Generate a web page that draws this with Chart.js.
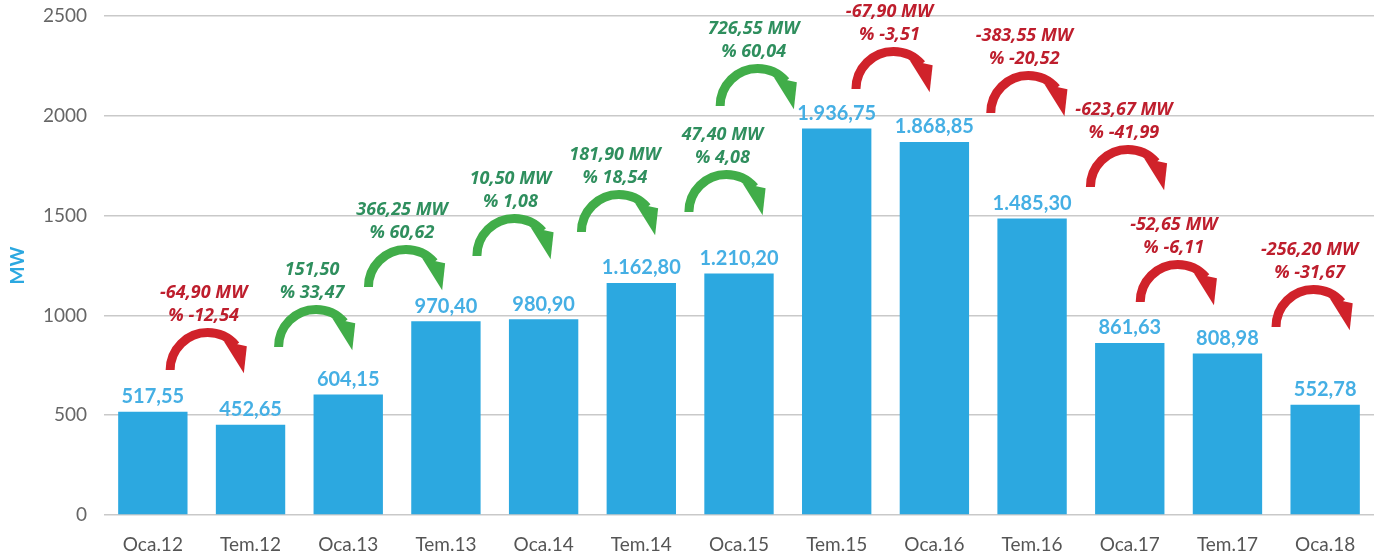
<!DOCTYPE html>
<html>
<head>
<meta charset="utf-8">
<script src="https://cdn.jsdelivr.net/npm/chart.js@4.4.0/dist/chart.umd.min.js"></script>
<style>
  html, body { margin: 0; padding: 0; background: #fff; }
  #wrap { width: 1392px; height: 557px; }
</style>
</head>
<body>
<div id="wrap"><canvas id="mwChart"></canvas></div>
<script>
const periods = ["Oca.12", "Tem.12", "Oca.13", "Tem.13", "Oca.14", "Tem.14", "Oca.15",
                 "Tem.15", "Oca.16", "Tem.16", "Oca.17", "Tem.17", "Oca.18"];
const capacity = [517.55, 452.65, 604.15, 970.40, 980.90, 1162.80, 1210.20,
                  1936.75, 1868.85, 1485.30, 861.63, 808.98, 552.78];

// change between consecutive periods
const changeMW = ["-64,90 MW", "151,50", "366,25 MW", "10,50 MW", "181,90 MW", "47,40 MW",
                  "726,55 MW", "-67,90 MW", "-383,55 MW", "-623,67 MW", "-52,65 MW", "-256,20 MW"];
const changePct = ["% -12,54", "% 33,47", "% 60,62", "% 1,08", "% 18,54", "% 4,08",
                   "% 60,04", "% -3,51", "% -20,52", "% -41,99", "% -6,11", "% -31,67"];
const rising = [false, true, true, true, true, true, true, false, false, false, false, false];
// where each arrow sits: category position and MW level
const arrowAt = [0.52, 1.63, 2.55, 3.66, 4.73, 5.83, 6.15, 7.54, 8.92, 9.94, 10.45, 11.84];
const arrowLevel = [726, 842, 1142, 1298, 1418, 1518, 2049, 2134, 2014, 1643, 1067, 942];

const yTicks = [0, 500, 1000, 1500, 2000, 2500];

function trFormat(v) {
    let parts = v.toFixed(2).split(".");
    let intPart = parts[0].replace(/\B(?=(\d{3})+(?!\d))/g, ".");
    return intPart + "," + parts[1];
}

const annotate = {
    id: "annotate",
    afterDatasetsDraw(chart) {
        const ctx = chart.ctx;
        const xs = chart.scales.x, ys = chart.scales.y;
        const bars = chart.getDatasetMeta(0).data;

        // value labels
        ctx.save();
        ctx.font = "bold 20px Lato";
        ctx.fillStyle = "#45afe4";
        ctx.textAlign = "center";
        ctx.textBaseline = "middle";
        bars.forEach((b, i) => {
            ctx.fillText(trFormat(capacity[i]), b.x, b.y - 15);
        });
        ctx.restore();

        // change arrows
        for (let i = 0; i < changeMW.length; i++) {
            const k = Math.floor(arrowAt[i]), f = arrowAt[i] - k;
            const px0 = xs.getPixelForValue(k), px1 = xs.getPixelForValue(k + 1);
            const tx = px0 + (px1 - px0) * f;
            const baseY = ys.getPixelForValue(arrowLevel[i]);
            const arrowCol = rising[i] ? "#41ad49" : "#d0222a";
            const textCol = rising[i] ? "#2f8f5e" : "#be1e2d";
            const cc = tx + 4, r = 37.5, endA = 2 * Math.PI - 0.72;

            ctx.save();
            ctx.strokeStyle = arrowCol;
            ctx.fillStyle = arrowCol;
            ctx.lineWidth = 9;
            ctx.beginPath();
            ctx.ellipse(cc, baseY, r, r, 0, Math.PI, endA);
            ctx.stroke();

            const ex = cc + r * Math.cos(endA), ey = baseY + r * Math.sin(endA);
            ctx.beginPath();
            ctx.moveTo(ex - 12, ey - 4);
            ctx.lineTo(ex + 11, ey + 1);
            ctx.lineTo(ex + 8, ey + 28);
            ctx.closePath();
            ctx.fill();

            ctx.font = "italic bold 18px 'Open Sans'";
            ctx.fillStyle = textCol;
            ctx.textAlign = "center";
            ctx.textBaseline = "middle";
            ctx.fillText(changeMW[i], tx, baseY - 77);
            ctx.fillText(changePct[i], tx, baseY - 54);
            ctx.restore();
        }
    }
};

new Chart(document.getElementById("mwChart"), {
    type: "bar",
    data: {
        labels: periods,
        datasets: [{
            label: "MW",
            data: capacity,
            backgroundColor: "#2ca8e0",
            barPercentage: 0.71,
            categoryPercentage: 1.0
        }]
    },
    options: {
        responsive: true,
        maintainAspectRatio: false,
        animation: false,
        layout: { padding: { top: 16, right: 18, left: 6, bottom: 0 } },
        plugins: {
            legend: { display: false },
            tooltip: { enabled: false }
        },
        scales: {
            x: {
                grid: { display: false },
                border: { display: false },
                ticks: { color: "#555", font: { family: "Lato", size: 19 }, padding: 10 },
                afterFit(scale) { scale.height = 42; }
            },
            y: {
                min: 0,
                max: 2500,
                afterBuildTicks(scale) { scale.ticks = yTicks.map(v => ({ value: v })); },
                grid: { color: "#c9c9c9", lineWidth: 1.5, drawTicks: false },
                border: { display: false },
                ticks: {
                    color: "#666",
                    font: { family: "Lato", size: 19 },
                    padding: 17,
                    callback: v => String(v)
                },
                title: {
                    display: true,
                    text: "MW",
                    color: "#2ca8e0",
                    font: { family: "Lato", size: 19, weight: "bold" },
                    padding: { top: 0, bottom: 0 }
                },
                afterFit(scale) {
                    scale.width = 98;
                    scale.paddingTop = 0;
                    scale.paddingBottom = 0;
                }
            }
        }
    },
    plugins: [annotate]
});
</script>
</body>
</html>
